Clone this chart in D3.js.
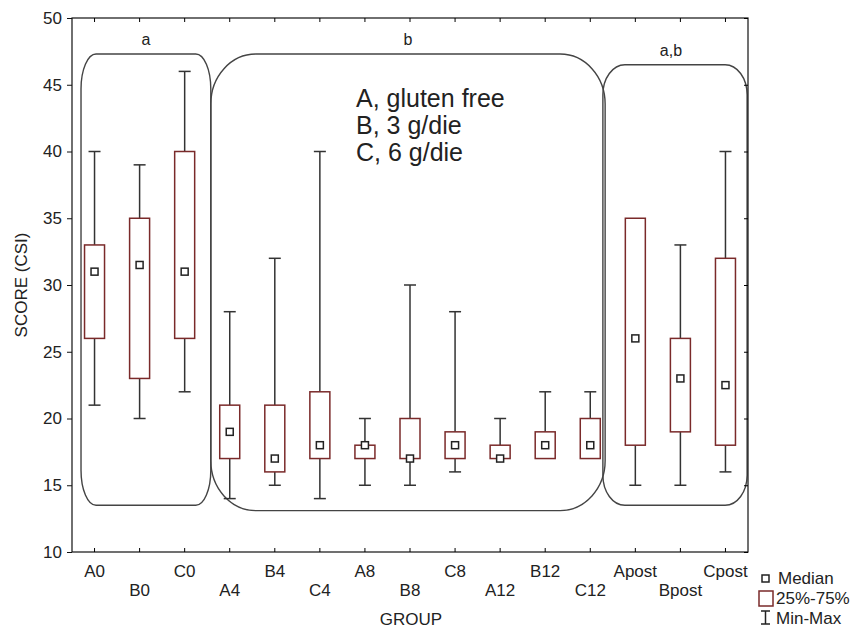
<!DOCTYPE html>
<html>
<head>
<meta charset="utf-8">
<script src="https://cdn.jsdelivr.net/npm/d3@7"></script>
<style>
  body { margin: 0; background: #fff; }
  text { font-family: "Liberation Sans", Arial, sans-serif; fill: #222; }
</style>
</head>
<body>
<div id="chart"></div>
<script>
var w = 861;
var h = 630;

// data
var groups = ["A0", "B0", "C0", "A4", "B4", "C4", "A8", "B8", "C8", "A12", "B12", "C12", "Apost", "Bpost", "Cpost"];
var mins    = [21, 20, 22, 14, 15, 14, 15, 15, 16, 17, 17, 17, 15, 15, 16];
var q1s     = [26, 23, 26, 17, 16, 17, 17, 17, 17, 17, 17, 17, 18, 19, 18];
var medians = [31, 31.5, 31, 19, 17, 18, 18, 17, 18, 17, 18, 18, 26, 23, 22.5];
var q3s     = [33, 35, 40, 21, 21, 22, 18, 20, 19, 18, 19, 20, 35, 26, 32];
var maxs    = [40, 39, 46, 28, 32, 40, 20, 30, 28, 20, 22, 22, 35, 33, 40];
var yTicks  = [10, 15, 20, 25, 30, 35, 40, 45, 50];

// significance clusters: span in category-index units, y extent in score units
var clusterLabels = ["a", "b", "a,b"];
var clusterFrom   = [0.2, 3.08, 11.78];
var clusterTo     = [3.08, 11.83, 14.98];
var clusterTop    = [47.3, 47.3, 46.5];
var clusterBottom = [13.5, 13.1, 13.5];

var notes = ["A, gluten free", "B, 3 g/die", "C, 6 g/die"];

var data = groups.map(function(g, i) {
  return {group: g, min: mins[i], q1: q1s[i], median: medians[i], q3: q3s[i], max: maxs[i]};
});

var margin = {top: 18, right: 113, bottom: 78, left: 72},
    width = w - margin.left - margin.right,
    height = h - margin.top - margin.bottom;

var svg = d3.select("#chart").append("svg")
    .attr("width", w)
    .attr("height", h);

var g = svg.append("g")
    .attr("transform", "translate(" + margin.left + "," + margin.top + ")");

var x = d3.scaleBand().domain(groups).range([0, width]).padding(0);
var xi = d3.scaleLinear().domain([0, groups.length]).range([0, width]);
var y = d3.scaleLinear().domain([10, 50]).range([height, 0]);

var boxW = 20, capW = 12, medS = 7;

// cluster outlines
var radii = [[15, 35], [45, 50], [22, 30]];
clusterLabels.forEach(function(lbl, i) {
  g.append("rect")
    .attr("x", xi(clusterFrom[i]))
    .attr("y", y(clusterTop[i]))
    .attr("width", xi(clusterTo[i]) - xi(clusterFrom[i]))
    .attr("height", y(clusterBottom[i]) - y(clusterTop[i]))
    .attr("rx", radii[i][0]).attr("ry", radii[i][1])
    .attr("fill", "none")
    .attr("stroke", "#444")
    .attr("stroke-width", 1.4);
  g.append("text")
    .attr("x", (xi(clusterFrom[i]) + xi(clusterTo[i])) / 2 - (i == 2 ? 4 : 0))
    .attr("y", y(clusterTop[i]) - 9)
    .attr("text-anchor", "middle")
    .style("font-size", "16px")
    .text(lbl);
});

// notes
notes.forEach(function(t, i) {
  g.append("text")
    .attr("x", 284)
    .attr("y", 89 + i * 27)
    .style("font-size", "25px")
    .text(t);
});

// boxes
var box = g.selectAll(".box")
  .data(data)
  .enter().append("g")
    .attr("class", "box")
    .attr("transform", function(d) { return "translate(" + (x(d.group) + x.bandwidth() / 2) + ",0)"; });

box.append("line")
    .attr("y1", function(d) { return y(d.max); })
    .attr("y2", function(d) { return y(d.q3); })
    .attr("stroke", "#333").attr("stroke-width", 1.5);
box.append("line")
    .attr("y1", function(d) { return y(d.q1); })
    .attr("y2", function(d) { return y(d.min); })
    .attr("stroke", "#333").attr("stroke-width", 1.5);
box.filter(function(d) { return d.max > d.q3; }).append("line")
    .attr("x1", -capW / 2).attr("x2", capW / 2)
    .attr("y1", function(d) { return y(d.max); })
    .attr("y2", function(d) { return y(d.max); })
    .attr("stroke", "#333").attr("stroke-width", 1.5);
box.filter(function(d) { return d.min < d.q1; }).append("line")
    .attr("x1", -capW / 2).attr("x2", capW / 2)
    .attr("y1", function(d) { return y(d.min); })
    .attr("y2", function(d) { return y(d.min); })
    .attr("stroke", "#333").attr("stroke-width", 1.5);
box.append("rect")
    .attr("x", -boxW / 2)
    .attr("width", boxW)
    .attr("y", function(d) { return y(d.q3); })
    .attr("height", function(d) { return y(d.q1) - y(d.q3); })
    .attr("fill", "#fff")
    .attr("stroke", "#7a2a2a").attr("stroke-width", 1.5);
box.append("rect")
    .attr("x", -medS / 2)
    .attr("width", medS)
    .attr("y", function(d) { return y(d.median) - medS / 2; })
    .attr("height", medS)
    .attr("fill", "#fff")
    .attr("stroke", "#222").attr("stroke-width", 1.5);

// frame
g.append("rect")
    .attr("width", width).attr("height", height)
    .attr("fill", "none").attr("stroke", "#111").attr("stroke-width", 1.2);

// y axis
var yAxis = g.append("g")
    .call(d3.axisLeft(y).tickValues(yTicks).tickSize(5).tickPadding(5));
yAxis.select(".domain").remove();
yAxis.selectAll("text").style("font-size", "17px").attr("fill", "#222");
yAxis.selectAll("line").attr("stroke", "#111");

// right and top inner ticks
g.append("g").attr("transform", "translate(" + width + ",0)")
  .call(d3.axisLeft(y).tickValues(yTicks).tickSize(4).tickFormat(""))
  .select(".domain").remove();
g.append("g")
  .call(d3.axisBottom(x).tickSize(4).tickFormat(""))
  .select(".domain").remove();

// x axis
var xAxis = g.append("g")
    .attr("transform", "translate(0," + height + ")")
    .call(d3.axisTop(x).tickSize(4).tickFormat(""));
xAxis.select(".domain").remove();
g.selectAll(".xlabel")
  .data(groups)
  .enter().append("text")
    .attr("x", function(d) { return x(d) + x.bandwidth() / 2; })
    .attr("y", function(d, i) { return height + (i % 2 == 0 ? 25 : 44); })
    .attr("text-anchor", "middle")
    .style("font-size", "17px")
    .text(function(d) { return d; });

// axis titles
g.append("text")
    .attr("x", width / 2 + 1)
    .attr("y", height + 73)
    .attr("text-anchor", "middle")
    .style("font-size", "17px")
    .text("GROUP");
g.append("text")
    .attr("transform", "translate(-45," + (height / 2) + ") rotate(-90)")
    .attr("text-anchor", "middle")
    .style("font-size", "17px")
    .text("SCORE (CSI)");

// legend
var lg = svg.append("g").attr("transform", "translate(758,570)");
lg.append("rect").attr("x", 4).attr("y", 5).attr("width", 7).attr("height", 7)
  .attr("fill", "#fff").attr("stroke", "#222").attr("stroke-width", 1.5);
lg.append("text").attr("x", 20).attr("y", 14).style("font-size", "17px").text("Median");
lg.append("rect").attr("x", 1).attr("y", 21).attr("width", 14).attr("height", 15)
  .attr("fill", "#fff").attr("stroke", "#7a2a2a").attr("stroke-width", 1.5);
lg.append("text").attr("x", 18).attr("y", 34).style("font-size", "17px").text("25%-75%");
lg.append("path").attr("d", "M3,41H12M7.5,41V54M3,54H12")
  .attr("fill", "none").attr("stroke", "#222").attr("stroke-width", 1.5);
lg.append("text").attr("x", 18).attr("y", 54).style("font-size", "17px").text("Min-Max");
</script>
</body>
</html>
